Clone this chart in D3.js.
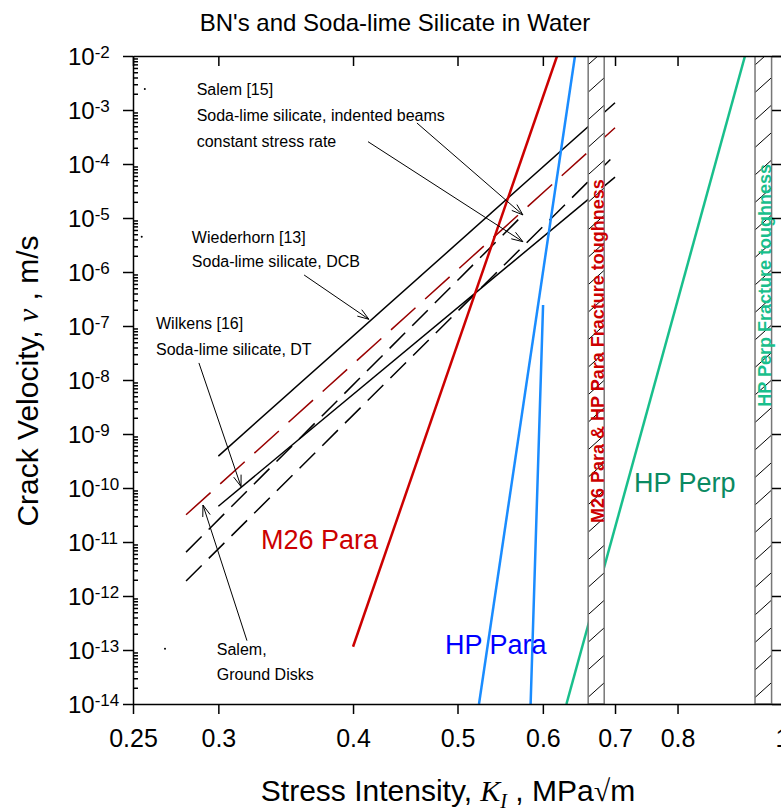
<!DOCTYPE html>
<html>
<head>
<meta charset="utf-8">
<script src="https://cdn.jsdelivr.net/npm/d3@7"></script>
<style>
  body { margin: 0; background: #fff; }
  svg { display: block; font-family: "Liberation Sans", Arial, sans-serif; }
</style>
</head>
<body>
<svg id="chart" width="781" height="812"></svg>
<script>
// Axis ticks
const xTicks = [0.25, 0.3, 0.4, 0.5, 0.6, 0.7, 0.8, 1];
const xTickLabels = ["0.25", "0.3", "0.4", "0.5", "0.6", "0.7", "0.8", "1"];
const yExponents = [-2, -3, -4, -5, -6, -7, -8, -9, -10, -11, -12, -13, -14];

// Soda-lime silicate lines: [K start, K end], [v start, v end]
const sodaNames = ["Wiederhorn DCB", "Wilkens DT", "Salem ground disks", "Salem indented beams", "Salem constant stress rate"];
const sodaK = [[0.30, 0.70], [0.30, 0.70], [0.28, 0.70], [0.28, 0.575], [0.28, 0.70]];
const sodaV = [[3.9e-10, 1.36e-3], [4.6e-11, 5.7e-5], [3.2e-11, 4.7e-4], [6.5e-12, 1.14e-5], [1.9e-12, 1.47e-4]];
const sodaStyle = ["solid", "solid", "reddash", "dash", "dash"];

// BN lines
const bnNames = ["M26 Para", "HP Para", "HP Para", "HP Perp"];
const bnK = [[0.40, 0.6185], [0.5235, 0.6426], [0.5845, 0.6003], [0.631, 0.924]];
const bnV = [[1.15e-13, 1e-2], [1e-14, 1e-2], [1e-14, 2.45e-7], [1e-14, 1e-2]];
const bnColors = ["#cc0000", "#1a8cff", "#1a8cff", "#19bf8c"];

// BN labels
const bnLabels = ["M26 Para", "HP Para", "HP Perp"];
const bnLabelK = [0.3286, 0.4868, 0.7288];
const bnLabelV = [7.3e-12, 8.4e-14, 8.5e-11];
const bnLabelColors = ["#cc0000", "#0000ff", "#0a8a62"];

// Fracture toughness bands
const bandK = [[0.661, 0.684], [0.944, 0.978]];
const bandText = ["M26 Para & HP Para Fracture toughness", "HP Perp Fracture toughness"];
const bandTextV = [2.25e-11, 3.2e-9];
const bandColors = ["#cc0000", "#19bf8c"];

// Annotation text
const noteText = ["Salem [15]", "Soda-lime silicate, indented beams", "constant stress rate",
  "Wiederhorn [13]", "Soda-lime silicate, DCB",
  "Wilkens [16]", "Soda-lime silicate, DT",
  "Salem,", "Ground Disks"];
const noteK = [0.2864, 0.2864, 0.2864, 0.2835, 0.2835, 0.2626, 0.2626, 0.299, 0.299];
const noteV = [1.9e-3, 6.34e-4, 2.09e-4, 3.49e-6, 1.24e-6, 8.8e-8, 2.9e-8, 8.07e-14, 2.78e-14];

// Annotation arrows: from [K, v] to [K, v]
const arrowFrom = [[0.4585, 5.74e-4], [0.413, 2.59e-4], [0.3603, 8.8e-7], [0.2878, 2.07e-8], [0.3189, 1.49e-13]];
const arrowTo = [[0.575, 1.14e-5], [0.575, 3.64e-6], [0.4138, 1.33e-7], [0.3149, 1.06e-10], [0.2903, 4.84e-11]];

// Stray dots in the original
const dotK = [0.2564, 0.2547, 0.2677];
const dotV = [2.45e-3, 4.5e-6, 1.05e-13];

const svg = d3.select("#chart");
const plotL = 133, plotR = 782, plotT = 56, plotB = 704;

const x = d3.scaleLog().domain([0.25, 1]).range([plotL, plotR]);
const y = d3.scaleLog().domain([1e-14, 1e-2]).range([plotB, plotT]);

svg.append("clipPath").attr("id", "plot-clip")
  .append("rect")
    .attr("x", plotL).attr("y", plotT)
    .attr("width", plotR - plotL).attr("height", plotB - plotT);

const line = d3.line()
    .x(d => x(d[0]))
    .y(d => y(d[1]));

const plot = svg.append("g").attr("clip-path", "url(#plot-clip)");

// Soda-lime silicate lines
sodaK.forEach(function(k, i) {
  const pts = [[k[0], sodaV[i][0]], [k[1], sodaV[i][1]]];
  const st = sodaStyle[i];
  plot.append("path")
      .datum(pts)
      .attr("d", line)
      .attr("fill", "none")
      .attr("stroke", st == "reddash" ? "#990000" : "#000")
      .attr("stroke-width", 1.5)
      .attr("stroke-dasharray", st == "reddash" ? "33,13" : st == "dash" ? "22,10" : null);
});

// BN lines
bnK.forEach(function(k, i) {
  plot.append("path")
      .datum([[k[0], bnV[i][0]], [k[1], bnV[i][1]]])
      .attr("d", line)
      .attr("fill", "none")
      .attr("stroke", bnColors[i])
      .attr("stroke-width", 2.5);
});

// Fracture toughness bands, hatched
bandK.forEach(function(b, i) {
  const x0 = x(b[0]), x1 = x(b[1]);
  const w = x1 - x0;
  const id = "band-clip-" + i;
  svg.append("clipPath").attr("id", id)
    .append("rect").attr("x", x0).attr("y", plotT).attr("width", w).attr("height", plotB - plotT);
  const g = plot.append("g");
  g.append("rect")
      .attr("x", x0).attr("y", plotT)
      .attr("width", w).attr("height", plotB - plotT)
      .attr("fill", "#fff");
  const hatch = g.append("g").attr("clip-path", "url(#" + id + ")");
  for (let yy = plotB - 14; yy > plotT - w; yy -= 27.5) {
    hatch.append("line")
        .attr("x1", x0).attr("y1", yy + w * 0.45)
        .attr("x2", x1).attr("y2", yy - w * 0.45)
        .attr("stroke", "#000").attr("stroke-width", 1);
  }
  g.append("rect")
      .attr("x", x0).attr("y", plotT)
      .attr("width", w).attr("height", plotB - plotT)
      .attr("fill", "none")
      .attr("stroke", "#777").attr("stroke-width", 1.5);
  svg.append("text")
      .attr("transform", "translate(" + (x1 - 0.5) + "," + y(bandTextV[i]) + ") rotate(-90)")
      .attr("font-size", 18)
      .attr("font-weight", "bold")
      .attr("fill", bandColors[i])
      .text(bandText[i]);
});

// BN labels
bnLabels.forEach(function(t, i) {
  svg.append("text")
      .attr("x", x(bnLabelK[i]))
      .attr("y", y(bnLabelV[i]))
      .attr("font-size", 27)
      .attr("fill", bnLabelColors[i])
      .text(t);
});

// Annotation text
noteText.forEach(function(t, i) {
  svg.append("text")
      .attr("x", x(noteK[i]))
      .attr("y", y(noteV[i]))
      .attr("font-size", 16)
      .attr("fill", "#000")
      .text(t);
});

// Annotation arrows
arrowFrom.forEach(function(f, i) {
  const x1 = x(f[0]), y1 = y(f[1]);
  const x2 = x(arrowTo[i][0]), y2 = y(arrowTo[i][1]);
  const a = Math.atan2(y2 - y1, x2 - x1);
  const L = 12, th = 0.33;
  svg.append("line")
      .attr("x1", x1).attr("y1", y1).attr("x2", x2).attr("y2", y2)
      .attr("stroke", "#000").attr("stroke-width", 1);
  svg.append("path")
      .attr("d", "M" + (x2 - L * Math.cos(a - th)) + "," + (y2 - L * Math.sin(a - th)) +
                 "L" + x2 + "," + y2 +
                 "L" + (x2 - L * Math.cos(a + th)) + "," + (y2 - L * Math.sin(a + th)))
      .attr("fill", "none")
      .attr("stroke", "#000").attr("stroke-width", 1);
});

// Stray dots
dotK.forEach(function(k, i) {
  svg.append("circle")
      .attr("cx", x(k)).attr("cy", y(dotV[i]))
      .attr("r", 1).attr("fill", "#000");
});

// Axes
const decades = yExponents.map(e => Math.pow(10, e));
const minors = [];
yExponents.slice(1).forEach(function(e) {
  for (let m = 2; m <= 9; m++) minors.push(m * Math.pow(10, e));
});

const xAxis = svg.append("g")
    .attr("transform", "translate(0," + plotB + ")")
    .call(d3.axisBottom(x).tickValues(xTicks).tickFormat((d, i) => xTickLabels[i])
      .tickSize(10).tickSizeOuter(0).tickPadding(15));
xAxis.selectAll("text").attr("font-size", 25).attr("font-family", "Liberation Sans, Arial, sans-serif");

svg.append("g")
    .attr("transform", "translate(0," + plotT + ")")
    .call(d3.axisTop(x).tickValues(xTicks).tickFormat("").tickSize(-10).tickSizeOuter(0));

svg.append("g")
    .attr("transform", "translate(" + plotL + ",0)")
    .call(d3.axisLeft(y).tickValues(decades).tickFormat("").tickSize(10).tickSizeOuter(0));

svg.append("g")
    .attr("transform", "translate(" + plotL + ",0)")
    .call(d3.axisRight(y).tickValues(minors).tickFormat("").tickSize(5).tickSizeOuter(0))
    .select(".domain").remove();

svg.append("g")
    .attr("transform", "translate(" + plotR + ",0)")
    .call(d3.axisRight(y).tickValues(decades).tickFormat("").tickSize(-10).tickSizeOuter(0));

svg.selectAll(".domain, .tick line").attr("stroke", "#000").attr("stroke-width", 1.5);

// Y tick labels: 10 with superscript exponent
yExponents.forEach(function(e) {
  const t = svg.append("text")
      .attr("x", 68)
      .attr("y", y(Math.pow(10, e)) + 9)
      .attr("fill", "#000");
  t.append("tspan").attr("font-size", 24).text("10");
  t.append("tspan").attr("font-size", 17).attr("dy", -7).text(String(e));
});

// Title
svg.append("text")
    .attr("x", 395).attr("y", 31)
    .attr("text-anchor", "middle")
    .attr("font-size", 24)
    .text("BN's and Soda-lime Silicate in Water");

// X axis label
const xl = svg.append("text")
    .attr("x", 448).attr("y", 801)
    .attr("text-anchor", "middle")
    .attr("font-size", 30);
xl.append("tspan").text("Stress Intensity, ");
xl.append("tspan").attr("font-family", "Liberation Serif, serif").attr("font-style", "italic").text("K");
xl.append("tspan").attr("font-family", "Liberation Serif, serif").attr("font-style", "italic")
    .attr("font-size", 20).attr("dy", 7).text("I");
xl.append("tspan").attr("dy", -7).text(" , MPa");
xl.append("tspan").attr("font-family", "Liberation Serif, serif").text("\u221A");
xl.append("tspan").text("m");

// Y axis label
const yl = svg.append("text")
    .attr("transform", "translate(38,381) rotate(-90)")
    .attr("text-anchor", "middle")
    .attr("font-size", 30);
yl.append("tspan").text("Crack Velocity, ");
yl.append("tspan").attr("font-family", "Liberation Serif, serif").attr("font-style", "italic").text("\u03BD");
yl.append("tspan").text(" , m/s");
</script>
</body>
</html>
